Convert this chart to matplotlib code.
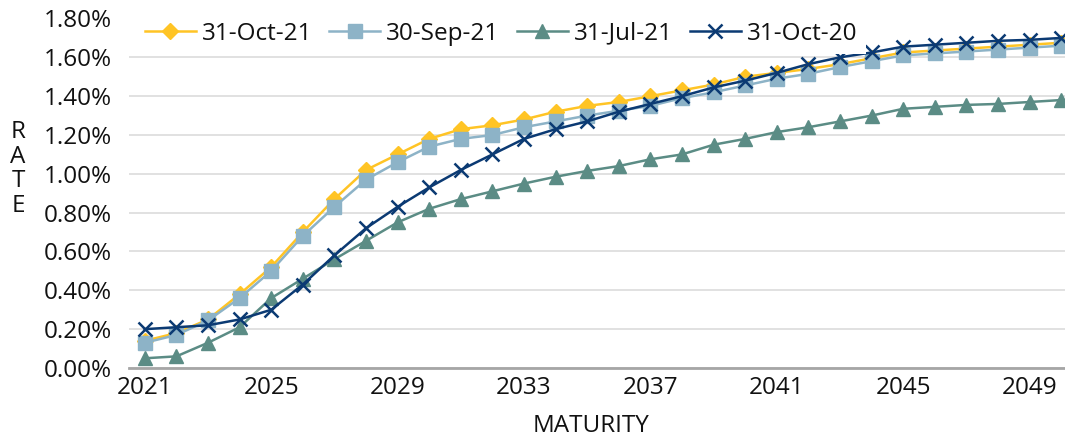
import numpy as np
import matplotlib.pyplot as plt
from matplotlib.ticker import FuncFormatter

plt.rcParams['font.family'] = ['Open Sans', 'DejaVu Sans']

years = list(range(2021, 2051))
tick_years = [2021, 2025, 2029, 2033, 2037, 2041, 2045, 2049]

oct21 = [0.14, 0.18, 0.25, 0.38, 0.52, 0.70, 0.87, 1.02, 1.10, 1.18,
         1.23, 1.25, 1.28, 1.32, 1.35, 1.37, 1.40, 1.43, 1.46, 1.50,
         1.52, 1.54, 1.565, 1.595, 1.625, 1.635, 1.645, 1.655, 1.665, 1.675]
sep21 = [0.13, 0.17, 0.245, 0.36, 0.50, 0.68, 0.83, 0.97, 1.06, 1.14,
         1.18, 1.20, 1.24, 1.27, 1.30, 1.325, 1.35, 1.39, 1.42, 1.455,
         1.49, 1.515, 1.55, 1.58, 1.61, 1.62, 1.63, 1.64, 1.65, 1.66]
jul21 = [0.05, 0.06, 0.13, 0.21, 0.36, 0.46, 0.56, 0.655, 0.75, 0.82,
         0.87, 0.91, 0.95, 0.985, 1.015, 1.04, 1.075, 1.10, 1.15, 1.18,
         1.215, 1.24, 1.27, 1.30, 1.335, 1.345, 1.355, 1.36, 1.37, 1.38]
oct20 = [0.20, 0.21, 0.22, 0.25, 0.30, 0.43, 0.58, 0.72, 0.83, 0.93,
         1.02, 1.10, 1.18, 1.23, 1.27, 1.32, 1.36, 1.40, 1.445, 1.48,
         1.52, 1.565, 1.60, 1.625, 1.655, 1.665, 1.675, 1.685, 1.69, 1.70]

fs = 17.5
txt = '#111111'

fig = plt.figure(figsize=(10.65, 4.4), dpi=100)
# plot area runs a bit past the right edge, like the cropped original
ax = fig.add_axes([129 / 1065, 1 - 368 / 440, 948 / 1065, (368 - 18.5) / 440])

ax.plot(years, oct21, color='#FFC425', lw=1.8, marker='D', ms=8.5,
        label='31-Oct-21', zorder=3)
ax.plot(years, sep21, color='#8DB3C7', lw=1.8, marker='s', ms=10.5,
        label='30-Sep-21', zorder=4)
ax.plot(years, jul21, color='#5B8C85', lw=1.8, marker='^', ms=10.5,
        label='31-Jul-21', zorder=5)
ax.plot(years, oct20, color='#0B3A73', lw=1.8, marker='x', ms=10.5, mew=1.8,
        label='31-Oct-20', zorder=6)

ax.set_xlim(2020.5, 2050.5)
ax.set_ylim(0, 1.8)
ax.set_xticks(tick_years)
ax.set_yticks(np.arange(0, 1.81, 0.2))
ax.yaxis.set_major_formatter(FuncFormatter(lambda v, p: '%.2f%%' % v))
ax.tick_params(length=0, labelsize=fs, colors=txt)
ax.tick_params(axis='x', pad=6)
ax.tick_params(axis='y', pad=12)

ax.grid(axis='y', color='#D9D9D9', lw=1.1, zorder=0)
for s in ['top', 'right', 'left']:
    ax.spines[s].set_visible(False)
ax.spines['bottom'].set_color('#A6A6A6')
ax.spines['bottom'].set_linewidth(2)
ax.spines['bottom'].set_zorder(2)

fig.text(18 / 1065, 1 - 169 / 440, 'R\nA\nT\nE', ha='center', va='center',
         fontsize=fs, linespacing=1.05, color=txt)
fig.text(591 / 1065, 1 - 426 / 440, 'MATURITY', ha='center', va='center',
         fontsize=fs, color=txt)

leg = ax.legend(loc='upper left', bbox_to_anchor=(136 / 1065, 1 - 13 / 440),
                bbox_transform=fig.transFigure, ncol=4, fontsize=fs,
                frameon=True, fancybox=False, framealpha=1, edgecolor='none',
                facecolor='white', handlelength=2.1, columnspacing=0.7,
                handletextpad=0.25, borderpad=0.35, borderaxespad=0)
for t in leg.get_texts():
    t.set_color(txt)
leg.set_zorder(10)

fig.savefig('out.png', dpi=100)
plt.close(fig)
